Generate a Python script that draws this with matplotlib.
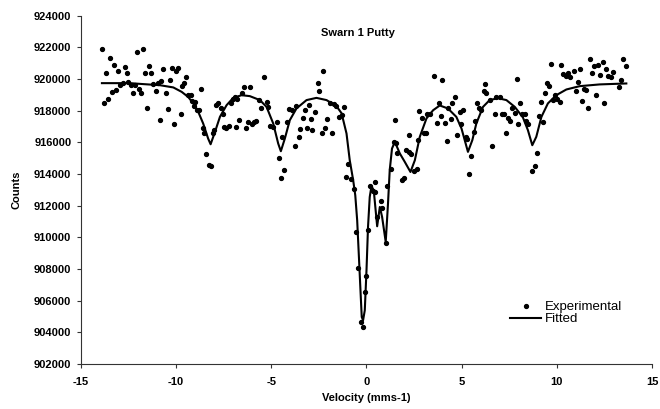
import matplotlib
matplotlib.use("Agg")
import matplotlib.pyplot as plt

plt.rcParams['font.family'] = ['Liberation Sans', 'DejaVu Sans']

# Experimental data (velocity mm/s, counts)
exp_v = [-13.90, -13.77, -13.70, -13.56, -13.48, -13.35, -13.25, -13.16, -13.06, -12.93,
         -12.81, -12.70, -12.57, -12.51, -12.39, -12.28, -12.16, -12.04, -11.97, -11.85,
         -11.74, -11.62, -11.52, -11.44, -11.32, -11.20, -11.08, -10.97, -10.85, -10.78,
         -10.68, -10.55, -10.45, -10.33, -10.24, -10.13, -10.01, -9.89, -9.73, -9.71,
         -9.59, -9.49, -9.37, -9.22, -9.19, -9.07, -9.01, -8.92, -8.82, -8.71,
         -8.58, -8.54, -8.44, -8.29, -8.17, -8.05, -8.00, -7.91, -7.79, -7.66,
         -7.53, -7.48, -7.39, -7.24, -7.14, -7.03, -6.91, -6.86, -6.79, -6.69,
         -6.56, -6.46, -6.34, -6.25, -6.13, -6.04, -5.93, -5.81, -5.64, -5.53,
         -5.39, -5.25, -5.17, -5.08, -4.90, -4.72, -4.60, -4.51, -4.43, -4.33,
         -4.20, -4.06, -3.94, -3.76, -3.68, -3.54, -3.47, -3.36, -3.24, -3.12,
         -3.01, -2.89, -2.84, -2.71, -2.57, -2.49, -2.35, -2.28, -2.17, -2.05,
         -1.93, -1.81, -1.72, -1.58, -1.44, -1.30, -1.19, -1.09, -0.97, -0.84,
         -0.65, -0.53, -0.44, -0.30, -0.19, -0.09, 0.00, 0.08, 0.21, 0.32,
         0.44, 0.47, 0.56, 0.75, 0.84, 1.01, 1.10, 1.28, 1.43, 1.52,
         1.54, 1.61, 1.84, 1.96, 2.06, 2.21, 2.24, 2.36, 2.48, 2.66,
         2.71, 2.76, 2.89, 3.01, 3.15, 3.20, 3.32, 3.53, 3.68, 3.80,
         3.94, 3.97, 4.11, 4.22, 4.28, 4.43, 4.49, 4.64, 4.76, 4.90,
         4.99, 5.07, 5.21, 5.28, 5.39, 5.51, 5.63, 5.69, 5.81, 5.91,
         6.04, 6.16, 6.23, 6.30, 6.47, 6.58, 6.75, 6.82, 7.00, 7.10,
         7.22, 7.35, 7.43, 7.52, 7.66, 7.79, 7.91, 7.96, 8.05, 8.19,
         8.31, 8.40, 8.48, 8.71, 8.84, 8.96, 9.06, 9.15, 9.27, 9.38,
         9.48, 9.59, 9.68, 9.80, 9.92, 10.03, 10.15, 10.22, 10.32, 10.46,
         10.58, 10.71, 10.88, 10.99, 11.11, 11.23, 11.34, 11.41, 11.51, 11.63,
         11.76, 11.86, 11.93, 12.07, 12.16, 12.28, 12.42, 12.47, 12.60, 12.68,
         12.82, 12.95, 13.26, 13.39, 13.47, 13.61]
exp_c = [921900, 918460, 920350, 918770, 921340, 919170, 920880, 919300, 920520, 919630,
         919760, 920730, 920390, 919820, 919610, 919090, 919610, 921720, 919400, 919090,
         921910, 920350, 918200, 920810, 920390, 919660, 919250, 919760, 917400, 919890,
         920610, 919090, 918120, 919970, 920670, 917190, 920520, 920670, 917780, 919550,
         919760, 920140, 919000, 918960, 918620, 918290, 918560, 918030, 918030, 919360,
         916880, 916600, 915250, 914540, 914490, 916600, 916810, 918390, 918460, 918140,
         917820, 916980, 916880, 917040, 918460, 918770, 918870, 916940, 918710, 917400,
         919130, 919510, 916880, 917260, 919510, 917190, 917260, 917320, 918670, 918140,
         920100, 918560, 918240, 917020, 916960, 917280, 915000, 913740, 916310, 914240,
         917280, 918120, 918030, 915780, 918290, 916350, 916830, 917550, 918030, 916910,
         918390, 917480, 916810, 917910, 919760, 919250, 916560, 920500, 916880, 917480,
         918460, 916560, 918410, 918310, 917610, 917720, 918240, 913820, 914660, 913670,
         913080, 910340, 908070, 904650, 904340, 906550, 907540, 910490, 913230, 912910,
         912870, 913480, 911290, 912300, 911880, 909670, 913230, 914300, 916030, 917400,
         915990, 915300, 913610, 913720, 915510, 915360, 916450, 915250, 914200, 914290,
         916140, 917990, 917550, 916560, 916560, 917760, 917820, 920200, 917230, 918490,
         917650, 919950, 917230, 916090, 918140, 917450, 918460, 918840, 916450, 917930,
         917150, 918030, 916350, 916240, 914010, 915130, 916660, 917360, 918460, 918140,
         918030, 919250, 919700, 919130, 918670, 915780, 917800, 918840, 918840, 917800,
         917820, 916560, 917510, 917360, 918140, 917860, 920010, 917150, 918460, 917820,
         917780, 917360, 917150, 914200, 914490, 915300, 917650, 918540, 917280, 919130,
         919760, 919550, 920940, 918670, 918980, 918770, 918520, 920880, 920310, 920180,
         920390, 920100, 920500, 919250, 919820, 920610, 918600, 919340, 919300, 918140,
         921260, 920350, 920810, 918980, 920880, 920250, 921070, 918460, 920610, 920180,
         920140, 920420, 919470, 919930, 921260, 920810]

# Fitted curve (velocity mm/s, counts)
fit_v = [-13.90, -12.43, -11.73, -10.85, -10.15, -9.71, -9.37, -9.10, -8.84, -8.58,
         -8.32, -8.19, -7.96, -7.70, -7.35, -7.00, -6.56, -6.13, -5.60, -5.25,
         -4.90, -4.64, -4.50, -4.29, -4.03, -3.68, -3.15, -2.63, -2.10, -1.58,
         -1.31, -1.05, -0.88, -0.70, -0.59, -0.49, -0.39, -0.30, -0.25, -0.18,
         -0.09, 0.00, 0.08, 0.17, 0.26, 0.38, 0.56, 0.70, 0.82, 1.01,
         1.13, 1.22, 1.34, 1.49, 1.75, 2.01, 2.31, 2.54, 2.80, 3.15,
         3.50, 3.85, 4.28, 4.72, 4.99, 5.16, 5.33, 5.56, 5.77, 6.12,
         6.47, 6.91, 7.35, 7.79, 8.22, 8.48, 8.71, 8.92, 9.19, 9.53,
         9.97, 10.50, 11.20, 12.25, 13.65]
fit_c = [919740, 919740, 919680, 919610, 919470, 919190, 918870, 918460, 917930, 917190,
         916240, 915880, 916660, 917610, 918350, 918810, 918980, 918920, 918670, 918240,
         917190, 915930, 915440, 916240, 917400, 918140, 918670, 918810, 918670, 918290,
         917840, 916560, 914870, 913610, 912660, 911080, 908550, 906230, 904970, 904760,
         905390, 907920, 910660, 912550, 913230, 912980, 910700, 911920, 911290, 909710,
         912140, 914240, 915610, 916030, 915300, 914770, 914130, 914870, 916350, 917510,
         918030, 918330, 918140, 917610, 916880, 916140, 915400, 916140, 917190, 918240,
         918670, 918790, 918670, 918240, 917570, 916770, 915820, 916350, 917610, 918460,
         918980, 919340, 919550, 919660, 919720]

x_ticks = [-15, -10, -5, 0, 5, 10, 15]
y_ticks = list(range(902000, 924001, 2000))

fig = plt.figure(figsize=(6.6, 4.09), dpi=100)
ax = fig.add_axes([0.1227, 0.110, 0.8652, 0.8516])

ax.plot(exp_v, exp_c, linestyle='none', marker='o', markersize=2.8,
        color='black', label='Experimental')
ax.plot(fit_v, fit_c, color='black', linewidth=1.5, label='Fitted')

ax.set_xlim(-15, 15)
ax.set_ylim(902000, 924000)
ax.set_xticks(x_ticks)
ax.set_yticks(y_ticks)
ax.set_yticklabels([str(t) for t in y_ticks])
ax.set_xticklabels([str(t) for t in x_ticks])

for s in ['top', 'right']:
    ax.spines[s].set_visible(False)
for s in ['left', 'bottom']:
    ax.spines[s].set_linewidth(0.8)
    ax.spines[s].set_color('#333333')

ax.tick_params(axis='both', direction='out', length=3, width=0.8, color='#333333')
ax.tick_params(axis='x', pad=6)
ax.tick_params(axis='y', pad=4)
for lab in ax.get_xticklabels() + ax.get_yticklabels():
    lab.set_fontsize(8)
    lab.set_fontweight('bold')

ax.set_xlabel('Velocity (mms-1)', fontsize=8, fontweight='bold', labelpad=5)
ax.set_ylabel('Counts', fontsize=8, fontweight='bold', labelpad=9)
ax.text(0.485, 0.951, 'Swarn 1 Putty', transform=ax.transAxes, ha='center',
        va='center', fontsize=8, fontweight='bold')

leg = ax.legend(loc='upper left', bbox_to_anchor=(0.751, 0.181), frameon=False,
                fontsize=9.5, handlelength=2.4, handletextpad=0.25, labelspacing=0.0,
                borderpad=0, borderaxespad=0, numpoints=1)

fig.savefig('out.png', dpi=100)
